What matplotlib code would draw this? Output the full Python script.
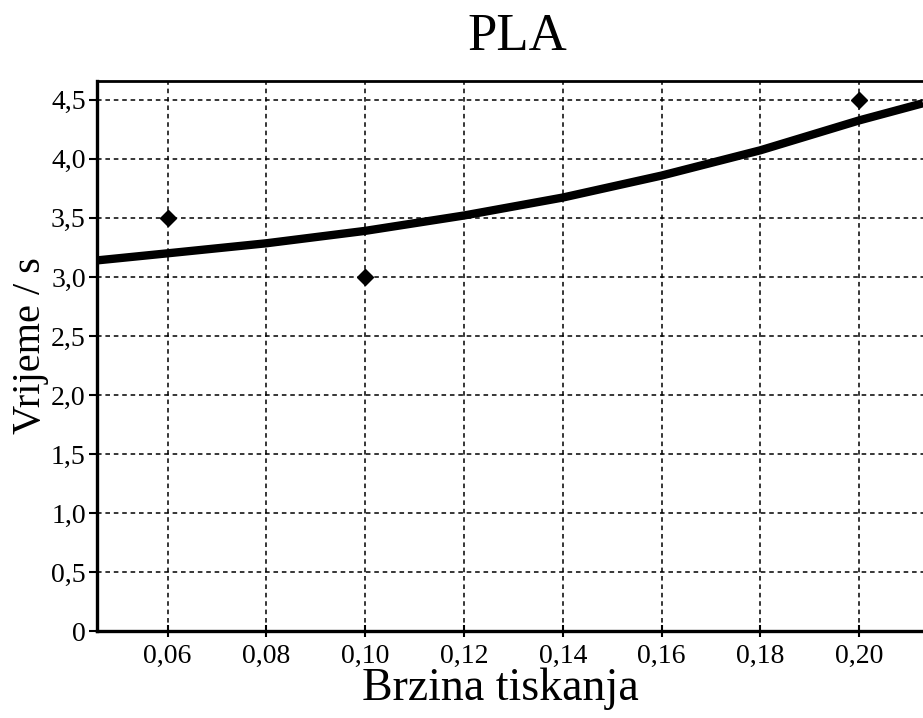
import matplotlib
matplotlib.use('Agg')
import matplotlib.pyplot as plt

plt.rcParams['font.family'] = ['Liberation Serif', 'DejaVu Serif']

# measured points
brzina = [0.06, 0.10, 0.20]
vrijeme = [3.5, 3.0, 4.5]

# trend curve
krivulja_x = [0.0457, 0.06, 0.08, 0.10, 0.12, 0.14, 0.16, 0.18, 0.20, 0.2129]
krivulja_y = [3.14, 3.20, 3.285, 3.39, 3.52, 3.672, 3.858, 4.072, 4.325, 4.47]

x_ticks = [0.06, 0.08, 0.10, 0.12, 0.14, 0.16, 0.18, 0.20]
x_labels = ['0,06', '0,08', '0,10', '0,12', '0,14', '0,16', '0,18', '0,20']
y_ticks = [0, 0.5, 1.0, 1.5, 2.0, 2.5, 3.0, 3.5, 4.0, 4.5]
y_labels = ['0', '0,5', '1,0', '1,5', '2,0', '2,5', '3,0', '3,5', '4,0', '4,5']

fig = plt.figure(figsize=(9.23, 7.18), dpi=100)
ax = fig.add_axes([0.105, 0.1205, 0.895, 0.7665])

ax.plot(krivulja_x, krivulja_y, color='black', lw=6, solid_capstyle='butt',
        solid_joinstyle='round', zorder=3)
ax.plot(brzina, vrijeme, 'D', color='black', ms=8, zorder=4)

ax.set_xlim(0.0457, 0.2129)
ax.set_ylim(0, 4.657)
ax.set_xticks(x_ticks)
ax.set_xticklabels(x_labels)
ax.set_yticks(y_ticks)
ax.set_yticklabels(y_labels)

ax.grid(True, color='black', linestyle=(0, (3, 2.5)), lw=1.1)
ax.set_axisbelow(True)

ax.spines['right'].set_visible(False)
ax.spines['left'].set_linewidth(2.4)
ax.spines['bottom'].set_linewidth(2.4)
ax.spines['top'].set_linewidth(2.0)

ax.tick_params(axis='x', direction='inout', length=8, width=1.5, labelsize=20, pad=5)
ax.tick_params(axis='y', direction='out', length=6, width=1.5, labelsize=20, pad=2)

ax.set_xlabel('Brzina tiskanja', fontsize=33)
ax.set_ylabel('Vrijeme / s', fontsize=29)
ax.xaxis.set_label_coords(0.488, -0.065, transform=ax.transAxes)
ax.yaxis.set_label_coords(-0.058, 0.52, transform=ax.transAxes)
fig.text(0.56, 0.93, 'PLA', fontsize=38, ha='center', va='baseline')

fig.savefig('out.png', dpi=100)
